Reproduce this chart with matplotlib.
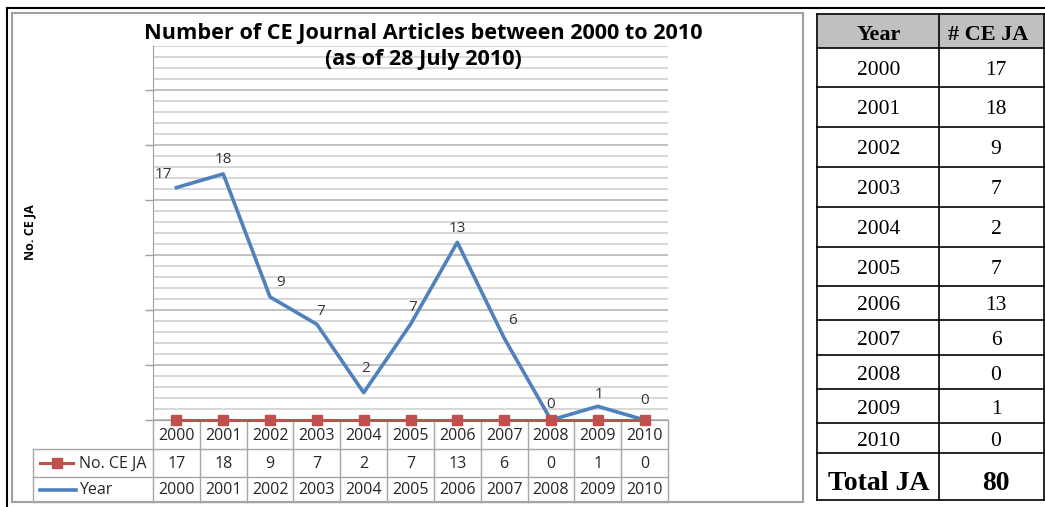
import numpy as np
import matplotlib.pyplot as plt
from matplotlib.patches import Rectangle

# data
years = [2000, 2001, 2002, 2003, 2004, 2005, 2006, 2007, 2008, 2009, 2010]
articles = [17, 18, 9, 7, 2, 7, 13, 6, 0, 1, 0]
# red series sits on the primary axis, where it reads as zero
red_plotted = [0, 0, 0, 0, 0, 0, 0, 0, 0, 0, 0]
total_ja = sum(articles)

# label nudges (pixels), Excel placed them a bit unevenly
label_dx = [-13, 0, 11, 4, 2, 2, 0, 8, 0, 1, 0]
label_dy = [13, 14, 14, 13, 24, 17, 14, 17, 15, 12, 19]

W, H = 1045, 507
BLUE = '#4f81bd'
RED = '#c0504d'
GRID = '#d4d4d4'
TBL = '#a6a6a6'
SANS = 'Open Sans'
SERIF = 'Liberation Serif'

fig = plt.figure(figsize=(W / 100, H / 100), dpi=100)
ov = fig.add_axes([0, 0, 1, 1])
ov.set_xlim(0, W)
ov.set_ylim(H, 0)
ov.axis('off')


def px_box(l, t, r, b):
    return [l / W, (H - b) / H, (r - l) / W, (b - t) / H]


PL, PT, PR, PB = 153, 46, 668, 420

# %% gridline axis (primary)
ax = fig.add_axes(px_box(PL, PT, PR, PB))
ax.patch.set_visible(False)
ax.set_xlim(-0.5, 10.5)
ax.set_ylim(0, 34)
ax.set_yticks(range(0, 35, 5))
ax.set_yticks(range(0, 35), minor=True)
ax.grid(which='minor', axis='y', color=GRID, lw=1.3)
ax.grid(which='major', axis='y', color='#bcbcbc', lw=1.3)
ax.tick_params(axis='y', which='major', length=6, width=1, color='#a0a0a0',
               labelleft=False)
ax.tick_params(axis='y', which='minor', length=0)
ax.set_xticks([])
for s in ['top', 'right']:
    ax.spines[s].set_visible(False)
ax.spines['left'].set_color('#a0a0a0')
ax.spines['bottom'].set_color('#a0a0a0')

# %% data axis (secondary)
ax2 = ax.twinx()
ax2.patch.set_visible(False)
ax2.set_ylim(0, (PB - PT) / 13.67)
ax2.axis('off')
x = np.arange(len(years))
ax2.plot(x, articles, color=BLUE, lw=2.6, zorder=3)
ax2.plot(x, red_plotted, color=RED, lw=2.2, marker='s', ms=6.5, clip_on=False,
         zorder=4)
for i, v in enumerate(articles):
    ax2.annotate(str(v), (i, v), xytext=(label_dx[i], label_dy[i]),
                 textcoords='offset pixels', ha='center', va='center',
                 fontsize=11, color='#333333', family=SANS)

# %% data table under the chart
cw = (PR - PL) / len(years)
r1, r2, r3, r4 = 420, 449, 477, 502
for yy in [r2, r3, r4]:
    ov.plot([33, PR], [yy, yy], color=TBL, lw=1)
ov.plot([33, 33], [r2, r4], color=TBL, lw=1)
for k in range(len(years) + 1):
    ov.plot([PL + k * cw] * 2, [r1, r4], color=TBL, lw=1)
for i, yv in enumerate(years):
    cx = PL + (i + 0.5) * cw
    ov.text(cx, (r1 + r2) / 2 + 1, str(yv), ha='center', va='center',
            fontsize=11.5, family=SANS, color='#262626')
    ov.text(cx, (r2 + r3) / 2 + 1, str(articles[i]), ha='center', va='center',
            fontsize=11.5, family=SANS, color='#262626')
    ov.text(cx, (r3 + r4) / 2 + 1, str(yv), ha='center', va='center',
            fontsize=11.5, family=SANS, color='#262626')

ym = (r2 + r3) / 2
ov.plot([40, 73], [ym, ym], color=RED, lw=2.2)
ov.plot([56.5], [ym], marker='s', ms=6.5, color=RED)
ov.text(79, ym + 1, 'No. CE JA', ha='left', va='center', fontsize=11.5,
        family=SANS, color='#262626')
ym = (r3 + r4) / 2
ov.plot([40, 76], [ym, ym], color=BLUE, lw=2.6)
ov.text(79, ym + 1, 'Year', ha='left', va='center', fontsize=11.5,
        family=SANS, color='#262626')

# %% frames
ov.add_patch(Rectangle((12, 13), 791, 489, fill=False, ec='#a0a0a0', lw=1.5))
ov.plot([7, W], [8, 8], color='black', lw=1.5)
ov.plot([7, 7], [8, H], color='black', lw=1.5)

# titles
fig.text(423 / W, 1 - 34 / H, 'Number of CE Journal Articles between 2000 to 2010',
         ha='center', va='center', fontsize=15.6, fontweight='bold', family=SANS)
fig.text(423 / W, 1 - 60 / H, '(as of 28 July 2010)', ha='center', va='center',
         fontsize=15.6, fontweight='bold', family=SANS)
fig.text(30 / W, 1 - 232 / H, 'No. CE JA', rotation=90, ha='center', va='center',
         fontsize=9, fontweight='bold', family=SANS)

# %% right hand table
TL, TM, TR = 817, 939, 1044
rows = [14, 48, 87, 127, 167, 207, 247, 286, 320, 355, 389, 423, 453, 500]
ov.add_patch(Rectangle((TL, rows[0]), TR - TL, rows[1] - rows[0],
                       fc='#c0c0c0', ec='none'))
for yy in rows:
    ov.plot([TL, TR], [yy, yy], color='black', lw=1.2)
for xx in [TL, TM, TR]:
    ov.plot([xx, xx], [rows[0], rows[-1]], color='black', lw=1.2)

c1, c2 = 879, 996
mid = (rows[0] + rows[1]) / 2 + 4
ov.text(c1, mid, 'Year', ha='center', va='center', fontsize=16,
        fontweight='bold', family=SERIF)
ov.text(988, mid, '# CE JA', ha='center', va='center', fontsize=16,
        fontweight='bold', family=SERIF)
for i, yv in enumerate(years):
    mid = (rows[i + 1] + rows[i + 2]) / 2 + 3
    ov.text(c1, mid, str(yv), ha='center', va='center', fontsize=15.5,
            family=SERIF)
    ov.text(c2, mid, str(articles[i]), ha='center', va='center', fontsize=15.5,
            family=SERIF)
mid = (rows[-2] + rows[-1]) / 2 + 7
ov.text(c1, mid, 'Total JA', ha='center', va='center', fontsize=20,
        fontweight='bold', family=SERIF)
ov.text(c2, mid, str(total_ja), ha='center', va='center', fontsize=20,
        fontweight='bold', family=SERIF)

fig.savefig('out.png', dpi=100)
